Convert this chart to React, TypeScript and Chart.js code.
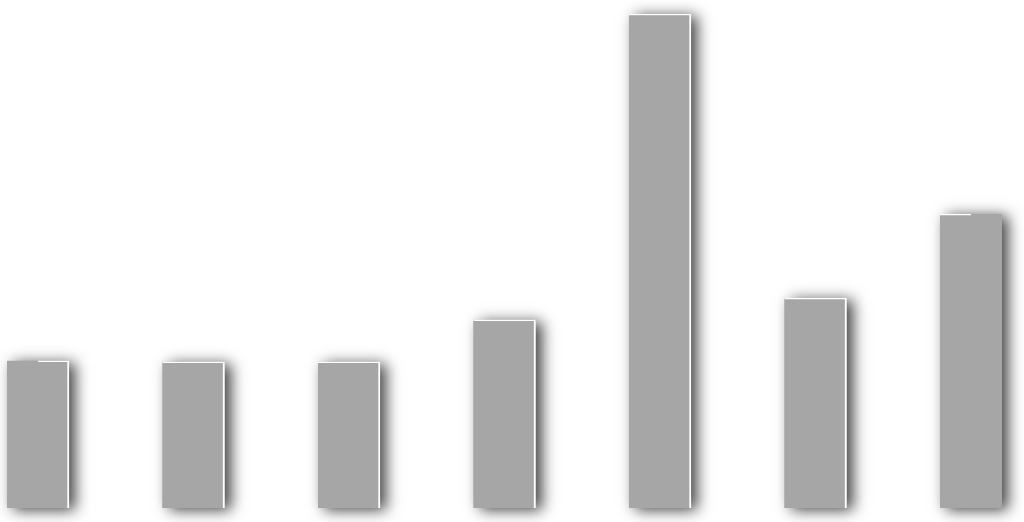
import { useEffect, useRef } from 'react'
import { Chart, registerables } from 'chart.js'

Chart.register(...registerables)

const categories = ['1', '2', '3', '4', '5', '6', '7']
const values = [29.8, 29.6, 29.6, 38.1, 100, 42.5, 59.5]

// soft drop shadow drawn behind each bar
const barShadow = {
  id: 'barShadow',
  beforeDatasetsDraw(chart: Chart) {
    const ctx = chart.ctx
    const meta = chart.getDatasetMeta(0)
    ctx.save()
    ctx.shadowColor = 'rgba(0, 0, 0, 0.75)'
    ctx.shadowBlur = 14
    ctx.shadowOffsetX = 6
    ctx.shadowOffsetY = 2
    ctx.fillStyle = '#a6a6a6'
    meta.data.forEach((el: any) => {
      const { x, y, base, width } = el.getProps(['x', 'y', 'base', 'width'], true)
      ctx.fillRect(x - width / 2, y, width, base - y)
    })
    ctx.restore()
  },
}

export default function App() {
  const canvasRef = useRef<HTMLCanvasElement>(null)
  const chartRef = useRef<Chart | null>(null)

  useEffect(() => {
    document.body.style.margin = '0'
    if (!canvasRef.current) return
    if (chartRef.current) chartRef.current.destroy()

    chartRef.current = new Chart(canvasRef.current, {
      type: 'bar',
      data: {
        labels: categories,
        datasets: [
          {
            data: values,
            backgroundColor: '#a6a6a6',
            borderColor: '#ffffff',
            borderWidth: { top: 1.5, right: 2, left: 0, bottom: 0 },
            borderSkipped: false,
            barThickness: 62,
          },
        ],
      },
      options: {
        animation: false,
        responsive: true,
        maintainAspectRatio: false,
        layout: { padding: { left: 38, right: 53, top: 14, bottom: 14 } },
        scales: {
          x: { display: false, offset: false },
          y: { display: false, min: 0, max: 100 },
        },
        plugins: {
          legend: { display: false },
          tooltip: { enabled: false },
        },
      },
      plugins: [barShadow],
    })

    return () => {
      if (chartRef.current) {
        chartRef.current.destroy()
        chartRef.current = null
      }
    }
  }, [])

  return (
    <div style={{ width: 1024, height: 522, position: 'relative' }}>
      <canvas ref={canvasRef} />
    </div>
  )
}
